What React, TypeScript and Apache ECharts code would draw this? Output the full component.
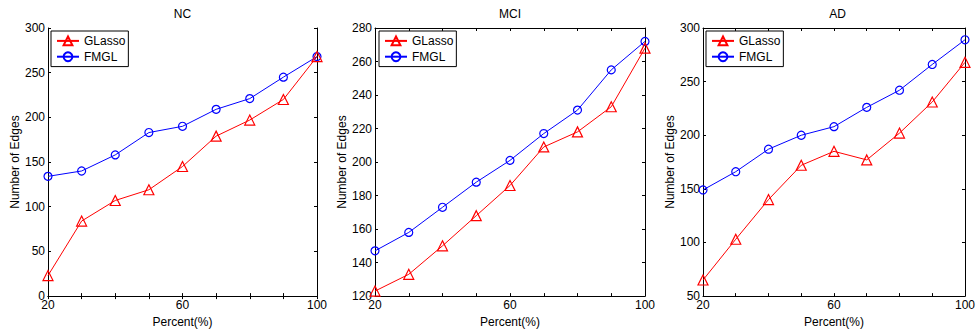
import React, { useEffect, useRef } from "react";
import * as echarts from "echarts";

const xValues = [20, 30, 40, 50, 60, 70, 80, 90, 100];
const xTickLabels = [20, 60, 100];

const panelTitles = ["NC", "MCI", "AD"];
const seriesNames = ["GLasso", "FMGL"];

const ncGLasso = [23, 84, 107, 119, 145, 179, 197, 220, 268];
const ncFMGL = [134, 140, 158, 183, 190, 209, 221, 245, 268];
const mciGLasso = [123, 133, 150, 168, 186, 209, 218, 233, 268];
const mciFMGL = [147, 158, 173, 188, 201, 217, 231, 255, 272];
const adGLasso = [65, 103, 140, 172, 185, 177, 202, 231, 268];
const adFMGL = [149, 166, 187, 200, 208, 226, 242, 266, 289];

const yMins = [0, 120, 50];
const yMaxs = [300, 280, 300];
const yIntervals = [50, 20, 50];

const FONT = '"Liberation Sans", Arial, Helvetica, sans-serif';

export default function App() {
  const ref = useRef<HTMLDivElement>(null);
  useEffect(() => {
    if (!ref.current) return;
    const chart = echarts.init(ref.current, undefined, { renderer: "svg" });
    const grids = [
      { left: 48, top: 28, width: 269, height: 269 },
      { left: 375, top: 28, width: 270, height: 269 },
      { left: 703, top: 28, width: 269, height: 269 },
    ];
    const data = [
      [ncGLasso, ncFMGL],
      [mciGLasso, mciFMGL],
      [adGLasso, adFMGL],
    ];
    const axisLine = { show: true, lineStyle: { color: "#000", width: 1 } };
    const tick = { show: true, inside: true, length: 3, lineStyle: { color: "#000", width: 1 } };
    const labelStyle = { color: "#000", fontSize: 12, fontFamily: FONT };

    const xAxis: any[] = [];
    const yAxis: any[] = [];
    grids.forEach((_, g) => {
      xAxis.push({
        type: "value",
        gridIndex: g,
        position: "bottom",
        min: 20,
        max: 100,
        interval: 10,
        axisLine,
        axisTick: tick,
        splitLine: { show: false },
        axisLabel: {
          ...labelStyle,
          margin: 3,
          formatter: (v: number) => (xTickLabels.includes(v) ? String(v) : ""),
        },
        name: "Percent(%)",
        nameLocation: "middle",
        nameGap: 18,
        nameTextStyle: labelStyle,
      });
    });
    grids.forEach((_, g) => {
      xAxis.push({
        type: "value",
        gridIndex: g,
        position: "top",
        min: 20,
        max: 100,
        interval: 10,
        axisLine,
        axisTick: tick,
        splitLine: { show: false },
        axisLabel: { show: false },
      });
    });
    grids.forEach((_, g) => {
      yAxis.push({
        type: "value",
        gridIndex: g,
        position: "left",
        min: yMins[g],
        max: yMaxs[g],
        interval: yIntervals[g],
        axisLine,
        axisTick: tick,
        splitLine: { show: false },
        axisLabel: { ...labelStyle, margin: 3 },
        name: "Number of Edges",
        nameLocation: "middle",
        nameGap: 27,
        nameTextStyle: labelStyle,
      });
    });
    grids.forEach((_, g) => {
      yAxis.push({
        type: "value",
        gridIndex: g,
        position: "right",
        min: yMins[g],
        max: yMaxs[g],
        interval: yIntervals[g],
        axisLine,
        axisTick: tick,
        splitLine: { show: false },
        axisLabel: { show: false },
      });
    });

    const series: any[] = [];
    grids.forEach((_, g) => {
      const [gl, fm] = data[g];
      series.push({
        type: "line",
        name: seriesNames[0],
        xAxisIndex: g,
        yAxisIndex: g,
        data: xValues.map((x, i) => [x, gl[i]]),
        symbol: "triangle",
        symbolSize: 10,
        color: "#ff0000",
        lineStyle: { color: "#ff0000", width: 1 },
        itemStyle: { color: "none", borderColor: "#ff0000", borderWidth: 1.2 },
        z: 3,
      });
      series.push({
        type: "line",
        name: seriesNames[1],
        xAxisIndex: g,
        yAxisIndex: g,
        data: xValues.map((x, i) => [x, fm[i]]),
        symbol: "circle",
        symbolSize: 8,
        color: "#0000ff",
        lineStyle: { color: "#0000ff", width: 1 },
        itemStyle: { color: "none", borderColor: "#0000ff", borderWidth: 1.2 },
        z: 2,
      });
    });

    const legendLefts = [51, 379, 706];
    const legend = legendLefts.map((l) => ({
      data: seriesNames,
      orient: "vertical",
      left: l,
      top: 31,
      padding: [3, 3, 3, 5],
      itemWidth: 22,
      itemHeight: 11,
      itemGap: 2,
      borderColor: "#000",
      borderWidth: 1,
      backgroundColor: "#fff",
      selectedMode: false,
      textStyle: { color: "#000", fontSize: 12, fontFamily: FONT },
    }));

    const title = grids.map((gr, g) => ({
      text: panelTitles[g],
      left: gr.left + gr.width / 2,
      top: 8,
      padding: 0,
      textAlign: "center",
      textStyle: { color: "#000", fontSize: 12, fontWeight: "normal", fontFamily: FONT },
    }));

    chart.setOption({
      animation: false,
      backgroundColor: "#fff",
      title,
      legend,
      grid: grids,
      xAxis,
      yAxis,
      series,
    });
    return () => chart.dispose();
  }, []);
  return (
    <div
      ref={ref}
      style={{ position: "absolute", left: 0, top: 0, width: 978, height: 333 }}
    />
  );
}
